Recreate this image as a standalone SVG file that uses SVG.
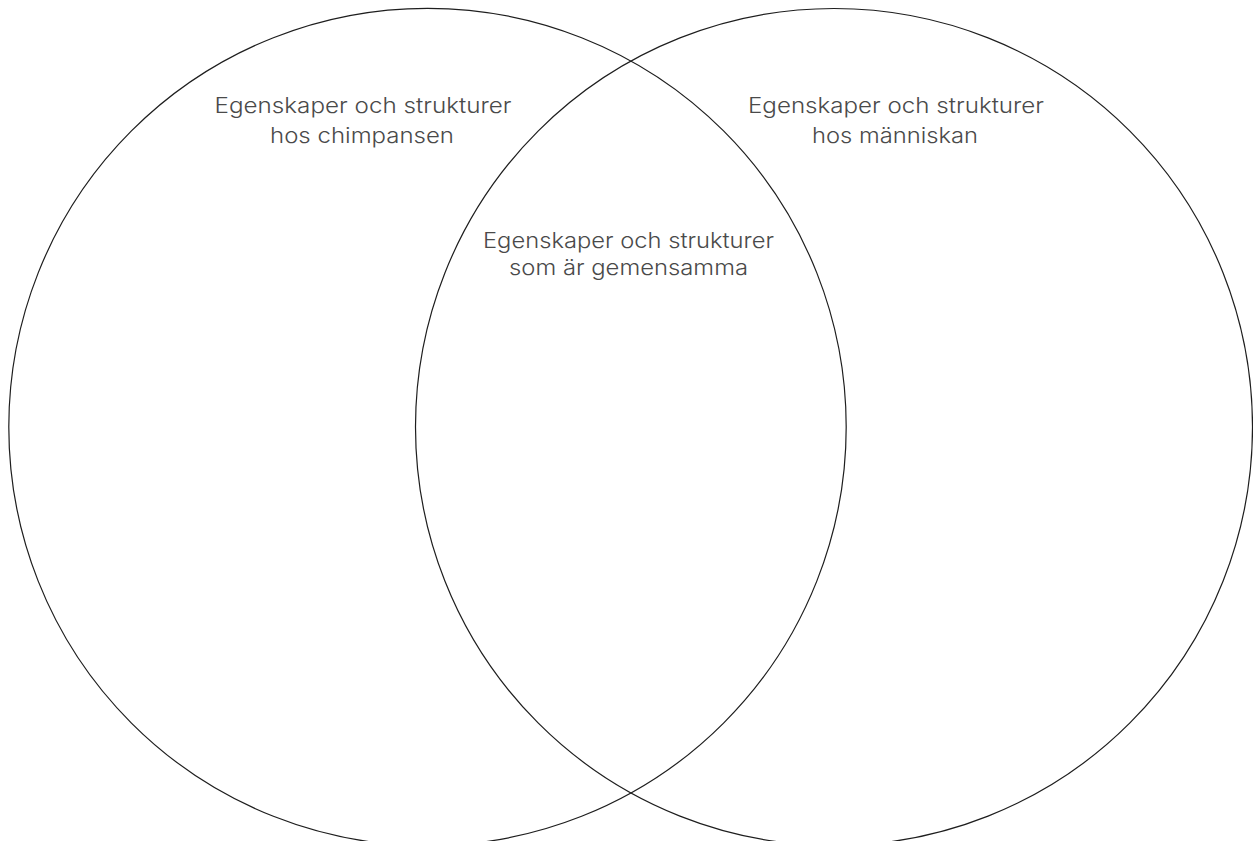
<svg xmlns="http://www.w3.org/2000/svg" width="1253" height="841" viewBox="0 0 1253 841">
<style>
.c{fill:none;stroke:#1e1e1e;stroke-width:1.2}
.t{font-family:Inter,"Open Sans","Liberation Sans",sans-serif;font-weight:300;font-size:21.5px;fill:#4a4a4a;text-anchor:middle}
</style>
<rect width="1253" height="841" fill="#fff"/>
<g id="left">
<circle class="c" cx="427.5" cy="427" r="418.7"/>
<text class="t" x="363" y="113" textLength="297" lengthAdjust="spacingAndGlyphs">Egenskaper och strukturer</text>
<text class="t" x="362" y="143" textLength="184" lengthAdjust="spacingAndGlyphs">hos chimpansen</text>
</g>
<g id="right">
<circle class="c" cx="834" cy="427" r="418.5"/>
<text class="t" x="896" y="113" textLength="296" lengthAdjust="spacingAndGlyphs">Egenskaper och strukturer</text>
<text class="t" x="895" y="143" textLength="166" lengthAdjust="spacingAndGlyphs">hos människan</text>
</g>
<g id="center">
<text class="t" x="628.5" y="248" textLength="291" lengthAdjust="spacingAndGlyphs">Egenskaper och strukturer</text>
<text class="t" x="628.5" y="275" textLength="239" lengthAdjust="spacingAndGlyphs">som är gemensamma</text>
</g>
<g id="connectors"/>
</svg>
